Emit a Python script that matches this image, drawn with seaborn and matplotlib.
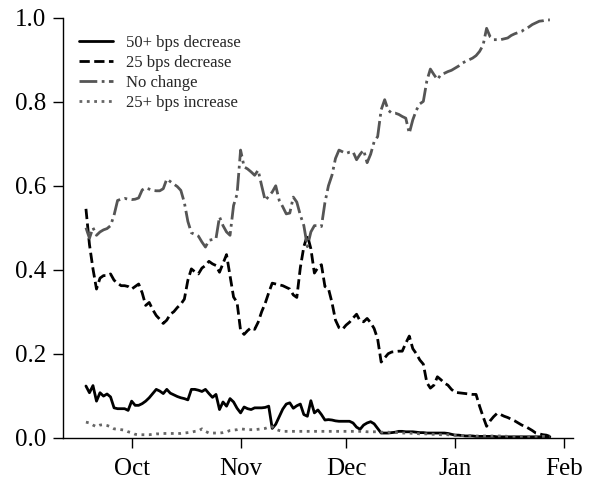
import numpy as np
import pandas as pd
import matplotlib
matplotlib.use("Agg")
import matplotlib.pyplot as plt
import matplotlib.dates as mdates
import seaborn as sns

# Daily observations, 2024-09-18 .. 2025-01-28
start_date = "2024-09-18"
end_date = "2025-01-28"

labels = ["50+ bps decrease", "25 bps decrease", "No change", "25+ bps increase"]

cut50 = [
    .123, .107, .124, .087, .107, .099, .104, .097, .071, .069,
    .069, .069, .065, .087, .077, .077, .081, .087, .095, .105,
    .115, .111, .105, .115, .106, .102, .098, .095, .093, .090,
    .115, .115, .113, .110, .115, .105, .096, .103, .067, .085,
    .075, .093, .085, .070, .059, .073, .069, .067, .071, .071,
    .071, .072, .075, .022, .032, .050, .068, .080, .083, .070,
    .076, .080, .055, .051, .088, .059, .066, .055, .042, .043,
    .042, .040, .039, .039, .039, .039, .035, .025, .020, .030,
    .035, .038, .033, .022, .011, .011, .011, .012, .013, .015,
    .015, .014, .014, .014, .013, .012, .012, .011, .011, .011,
    .011, .011, .011, .010, .008, .006, .006, .005, .004, .004,
    .004, .003, .003, .003, .003, .003, .003, .002, .002, .002,
    .002, .002, .002, .002, .002, .002, .002, .002, .002, .002,
    .002, .002, .002,
]

cut25 = [
    .545, .460, .402, .354, .380, .386, .386, .390, .375, .368,
    .362, .362, .360, .354, .360, .366, .345, .315, .322, .305,
    .291, .282, .272, .280, .294, .300, .310, .318, .330, .375,
    .402, .395, .390, .404, .410, .420, .414, .410, .394, .415,
    .436, .386, .335, .322, .255, .246, .255, .262, .258, .275,
    .300, .320, .345, .368, .366, .364, .362, .358, .354, .340,
    .334, .405, .455, .482, .450, .392, .405, .412, .360, .355,
    .322, .280, .262, .258, .268, .275, .285, .294, .278, .276,
    .284, .274, .260, .235, .180, .190, .200, .204, .205, .206,
    .206, .225, .242, .212, .200, .185, .175, .131, .118, .125,
    .145, .138, .130, .125, .115, .108, .107, .106, .105, .104,
    .103, .103, .075, .050, .027, .040, .050, .058, .055, .051,
    .048, .044, .040, .035, .030, .027, .022, .017, .011, .009,
    .007, .006, .003,
]

no_change = [
    .500, .475, .500, .482, .490, .495, .498, .505, .530, .565,
    .568, .570, .568, .567, .568, .571, .590, .595, .592, .589,
    .588, .588, .593, .616, .610, .604, .598, .589, .560, .515,
    .488, .484, .480, .466, .454, .470, .472, .474, .526, .505,
    .490, .482, .553, .580, .685, .645, .640, .633, .625, .637,
    .600, .565, .575, .585, .600, .565, .550, .533, .535, .573,
    .561, .530, .505, .455, .490, .505, .505, .503, .560, .600,
    .625, .665, .685, .681, .677, .680, .681, .662, .675, .685,
    .655, .675, .705, .717, .781, .805, .780, .773, .773, .770,
    .765, .761, .725, .757, .780, .795, .801, .850, .878, .865,
    .853, .865, .868, .872, .875, .880, .885, .892, .896, .900,
    .904, .910, .920, .935, .975, .955, .948, .948, .948, .950,
    .952, .958, .962, .965, .968, .974, .978, .984, .988, .992,
    .993, .995, .995,
]

hike25 = [
    .037, .035, .030, .026, .030, .031, .029, .026, .021, .020,
    .019, .018, .014, .012, .008, .007, .007, .007, .007, .008,
    .009, .009, .010, .010, .010, .010, .010, .010, .011, .012,
    .013, .015, .016, .021, .015, .011, .011, .011, .011, .012,
    .014, .017, .018, .019, .021, .020, .019, .019, .019, .020,
    .021, .022, .025, .026, .020, .017, .015, .015, .015, .015,
    .015, .015, .015, .015, .015, .015, .015, .015, .015, .015,
    .015, .015, .015, .015, .015, .015, .015, .015, .015, .015,
    .014, .014, .014, .014, .013, .013, .013, .012, .012, .012,
    .011, .011, .011, .010, .010, .009, .009, .009, .008, .008,
    .008, .007, .007, .007, .006, .006, .006, .005, .005, .005,
    .005, .004, .004, .004, .004, .004, .004, .004, .004, .004,
    .003, .003, .003, .003, .003, .003, .003, .003, .003, .003,
    .003, .003, .003,
]

yticks = [0.0, 0.2, 0.4, 0.6, 0.8, 1.0]

dates = pd.date_range(start_date, end_date, freq="D")
df = pd.DataFrame({"date": dates, labels[0]: cut50, labels[1]: cut25,
                   labels[2]: no_change, labels[3]: hike25})

sns.set_style("ticks")
plt.rcParams["font.family"] = ["Liberation Serif", "DejaVu Serif"]

fig = plt.figure(figsize=(5.92, 4.82), dpi=100)
ax = fig.add_axes([0.106, 0.092, 0.862, 0.871])

styles = [
    dict(color="black", linestyle="-"),
    dict(color="black", linestyle="--"),
    dict(color="#555555", linestyle="-."),
    dict(color="#666666", linestyle=":"),
]
for lab, st in zip(labels, styles):
    sns.lineplot(data=df, x="date", y=lab, ax=ax, label=lab, linewidth=2, **st)

ax.set_ylim(0, 1.0)
ax.set_yticks(yticks)
ax.set_yticklabels([f"{t:.1f}" for t in yticks])
ax.xaxis.set_major_locator(mdates.MonthLocator())
ax.xaxis.set_major_formatter(mdates.DateFormatter("%b"))
ax.set_xlabel("")
ax.set_ylabel("")
ax.tick_params(axis="both", labelsize=18, direction="out", length=7, width=1,
               pad=5, colors="black")
ax.tick_params(axis="x", pad=8)
for s in ["left", "bottom"]:
    ax.spines[s].set_linewidth(1)
    ax.spines[s].set_color("black")
sns.despine(ax=ax)

ax.legend(loc="upper left", frameon=False, fontsize=12, handlelength=2.0,
          borderaxespad=0.6, labelspacing=0.25)

fig.savefig("out.png", dpi=100)
